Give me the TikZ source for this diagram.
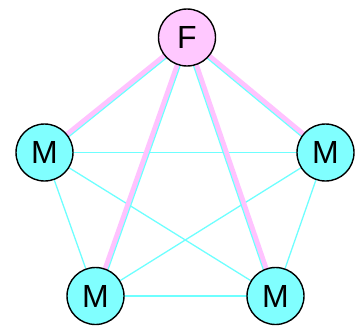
\documentclass[tikz,border=0pt]{standalone}
\usepackage{fontspec}
\setmainfont{Liberation Sans}
\usetikzlibrary{calc}
\definecolor{nodecyan}{RGB}{128,255,255}
\definecolor{nodepink}{RGB}{255,200,255}
\definecolor{edgecyan}{RGB}{110,255,255}
\definecolor{edgepink}{RGB}{255,195,255}
\begin{document}
\begin{tikzpicture}[x=1pt,y=1pt,
  person/.style={circle,draw=black,line width=1.4pt,minimum size=57pt,inner sep=0pt,font=\fontsize{32}{32}\selectfont},
  male/.style={person,fill=nodecyan},
  female/.style={person,fill=nodepink},
  mm/.style={draw=edgecyan,line width=1.3pt},
  fm/.style={draw=edgepink,line width=5pt},
  fmc/.style={draw=edgecyan,line width=1.2pt}]
\useasboundingbox (0,0) rectangle (356,325);
\coordinate (cF) at (187,287.5);
\coordinate (cL) at (44.5,172.5);
\coordinate (cR) at (325.5,172.5);
\coordinate (cBL) at (95.5,29);
\coordinate (cBR) at (275.5,29);
% M-M edges
\draw[mm] (cL) -- (cR);
\draw[mm] (cL) -- (cBL);
\draw[mm] (cL) -- (cBR);
\draw[mm] (cR) -- (cBL);
\draw[mm] (cR) -- (cBR);
\draw[mm] (cBL) -- (cBR);
% F-M edges (pink)
\draw[fm] (cF) -- (cL);
\draw[fm] (cF) -- (cR);
\draw[fm] (cF) -- (cBL);
\draw[fm] (cF) -- (cBR);
% cyan companions
\draw[fmc] ($(cF)!3pt!90:(cL)$) -- ($(cL)!3pt!-90:(cF)$);
\draw[fmc] ($(cF)!3pt!90:(cBL)$) -- ($(cBL)!3pt!-90:(cF)$);
\draw[fmc] ($(cF)!3pt!-90:(cR)$) -- ($(cR)!3pt!90:(cF)$);
\draw[fmc] ($(cF)!3pt!-90:(cBR)$) -- ($(cBR)!3pt!90:(cF)$);
% nodes
\node[female] (F) at (cF) {F};
\node[male] (L) at (cL) {M};
\node[male] (R) at (cR) {M};
\node[male] (BL) at (cBL) {M};
\node[male] (BR) at (cBR) {M};
\end{tikzpicture}
\end{document}
